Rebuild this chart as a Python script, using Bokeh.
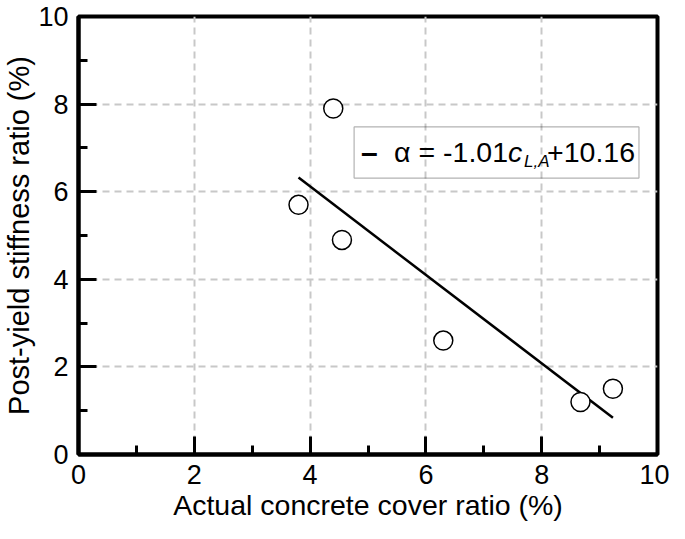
from bokeh.plotting import figure
from bokeh.models import Range1d, SingleIntervalTicker, BoxAnnotation, Label, ColumnDataSource
from bokeh.embed import file_html
from bokeh.resources import INLINE

# ---- data ----
cover_ratio = [3.8, 4.4, 4.55, 6.3, 8.67, 9.23]
stiffness_ratio = [5.7, 7.9, 4.9, 2.6, 1.2, 1.5]
fit_slope = -1.01
fit_intercept = 10.16
x_ticks_interval = 2
x_label = "Actual concrete cover ratio (%)"
y_label = "Post-yield stiffness ratio (%)"

FONT = "Liberation Sans"

p = figure(width=669, height=523, output_backend="svg", toolbar_location=None,
           x_range=Range1d(0, 10), y_range=Range1d(0, 10),
           min_border_left=60, min_border_right=12, min_border_top=16, min_border_bottom=40)
p.background_fill_color = "white"
p.border_fill_color = "white"
p.outline_line_color = "black"
p.outline_line_width = 4

for ax in (p.xaxis[0], p.yaxis[0]):
    ax.ticker = SingleIntervalTicker(interval=x_ticks_interval, num_minor_ticks=2)
    ax.axis_line_width = 4
    ax.axis_line_color = "black"
    ax.major_tick_in = 18
    ax.major_tick_out = 0
    ax.minor_tick_in = 9
    ax.minor_tick_out = 0
    ax.major_tick_line_width = 3
    ax.minor_tick_line_width = 3
    ax.major_tick_line_color = "black"
    ax.minor_tick_line_color = "black"
    ax.major_label_text_font = FONT
    ax.major_label_text_font_size = "27px"
    ax.major_label_text_color = "black"
    ax.axis_label_text_font = FONT
    ax.axis_label_text_font_style = "normal"
    ax.axis_label_text_color = "black"

p.xaxis.axis_label = x_label
p.yaxis.axis_label = y_label
p.xaxis.axis_label_text_font_size = "28.5px"
p.yaxis.axis_label_text_font_size = "29px"
p.xaxis.major_label_standoff = 10
p.xaxis.axis_label_standoff = 2
p.yaxis.major_label_standoff = 10
p.yaxis.axis_label_standoff = 0

for g in (p.xgrid[0], p.ygrid[0]):
    g.ticker = SingleIntervalTicker(interval=x_ticks_interval)
    g.grid_line_color = "#c8c8c8"
    g.grid_line_width = 2
    g.grid_line_dash = "7 5"

# fit line over data extent
x0, x1 = min(cover_ratio), max(cover_ratio)
fit_src = ColumnDataSource(dict(x=[x0, x1], y=[fit_slope * x0 + fit_intercept, fit_slope * x1 + fit_intercept]))
p.line("x", "y", source=fit_src, line_color="black", line_width=2.5)

pts = ColumnDataSource(dict(x=cover_ratio, y=stiffness_ratio))
p.scatter("x", "y", source=pts, marker="circle", size=19, fill_color="white",
          line_color="black", line_width=1.5)

# legend box (no fill, grid visible through)
box = BoxAnnotation(left=4.76, right=9.68, top=7.48, bottom=6.31,
                    fill_alpha=0, line_color="black", line_width=1.2)
p.add_layout(box)

ly = 6.9
lx = 4.76
common = dict(x=lx, y=ly, text_font=FONT, text_baseline="middle", text_color="black")
p.add_layout(Label(text="–", x_offset=7, text_font_size="30px", text_font_style="bold", **common))
p.add_layout(Label(text="α = -1.01", x_offset=40, text_font_size="28.5px", **common))
p.add_layout(Label(text="c", x_offset=154, text_font_size="28.5px", text_font_style="italic", **common))
p.add_layout(Label(text="L,A", x_offset=170, y_offset=-9, text_font_size="17px", text_font_style="italic", **common))
p.add_layout(Label(text=f"+{fit_intercept:.2f}", x_offset=193, text_font_size="28.5px", **common))

open("out.html", "w").write(file_html(p, INLINE))
